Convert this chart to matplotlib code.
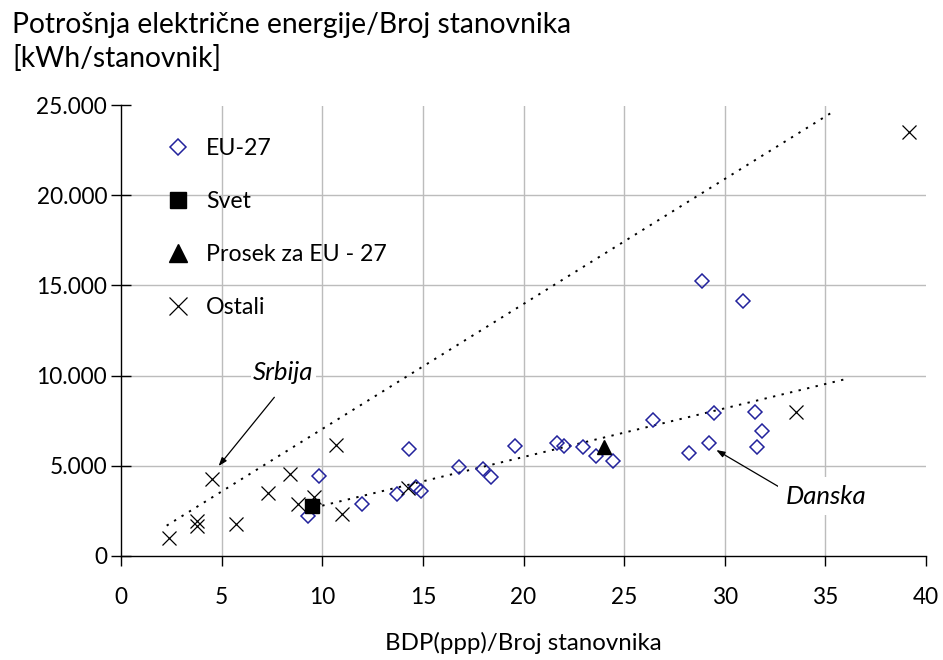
import matplotlib
matplotlib.use("Agg")
import matplotlib.pyplot as plt
from matplotlib.ticker import FixedLocator

plt.rcParams['font.family'] = ['Lato', 'DejaVu Sans']

# ---- data ----
eu27_x = [9.30, 9.84, 11.97, 13.70, 14.29, 14.64, 14.92, 16.78, 17.99, 18.39, 19.60,
          21.66, 22.01, 22.97, 23.59, 24.47, 26.41, 28.24, 28.85, 29.23, 29.47,
          30.91, 31.51, 31.61, 31.86]
eu27_y = [2200, 4400, 2850, 3400, 5930, 3820, 3580, 4930, 4820, 4360, 6100,
          6270, 6080, 6010, 5510, 5270, 7510, 5710, 15250, 6270, 7940,
          14140, 7950, 6030, 6920]

svet_x = [9.48]
svet_y = [2760]

prosek_x = [24.02]
prosek_y = [6045]

ostali_x = [2.39, 3.77, 3.77, 4.52, 5.73, 7.30, 8.38, 8.78, 9.58, 10.69, 10.96,
            14.26, 33.52, 39.16]
ostali_y = [990, 1920, 1650, 4250, 1750, 3450, 4510, 2860, 3270, 6120, 2300,
            3730, 7950, 23540]

trend_upper_x = [2.27, 35.36]
trend_upper_y = [1660, 24640]
trend_lower_x = [10.0, 35.97]
trend_lower_y = [2770, 9790]

x_ticks = [0, 5, 10, 15, 20, 25, 30, 35, 40]
y_ticks = [0, 5000, 10000, 15000, 20000, 25000]
y_tick_labels = ['0', '5.000', '10.000', '15.000', '20.000', '25.000']

series_labels = ['EU-27', 'Svet', 'Prosek za EU - 27', 'Ostali']
title_lines = ['Potrošnja električne energije/Broj stanovnika', '[kWh/stanovnik]']
x_label = 'BDP(ppp)/Broj stanovnika'

srbija_xy = (4.85, 4970)
srbija_arrow_start = (7.62, 8790)
srbija_text_xy = (8.07, 10140)
danska_xy = (29.58, 5860)
danska_arrow_start = (32.82, 3730)
danska_text_xy = (35.04, 3300)

# ---- figure ----
fig = plt.figure(figsize=(9.43, 6.6), dpi=100)
ax = fig.add_axes([121/943, 1 - 555.5/660, 805/943, 450/660])

blue = '#22229c'
ax.plot(trend_upper_x, trend_upper_y, color='black', lw=1.4,
        linestyle=(0, (1.2, 3.3)), zorder=3)
ax.plot(trend_lower_x, trend_lower_y, color='black', lw=1.4,
        linestyle=(0, (1.2, 3.3)), zorder=3)

h1, = ax.plot(eu27_x, eu27_y, linestyle='none', marker='D', ms=6.7,
              mfc='none', mec=blue, mew=1.1, label=series_labels[0], zorder=4)
h2, = ax.plot(svet_x, svet_y, linestyle='none', marker='s', ms=9.6,
              mfc='black', mec='black', label=series_labels[1], zorder=5)
h3, = ax.plot(prosek_x, prosek_y, linestyle='none', marker='^', ms=10,
              mfc='black', mec='black', label=series_labels[2], zorder=5)
h4, = ax.plot(ostali_x, ostali_y, linestyle='none', marker='x', ms=10,
              mec='black', mew=0.9, label=series_labels[3], zorder=4)

ax.set_xlim(0, 40)
ax.set_ylim(0, 25000)
ax.xaxis.set_major_locator(FixedLocator(x_ticks))
ax.yaxis.set_major_locator(FixedLocator(y_ticks))
ax.set_xticklabels([str(t) for t in x_ticks])
ax.set_yticklabels(y_tick_labels)

ax.grid(True, color='#bcbcbc', lw=1.0, zorder=0)
ax.set_axisbelow(True)
# no gridline at the axis limits
ax.xaxis.get_major_ticks()[-1].gridline.set_visible(False)
ax.yaxis.get_major_ticks()[-1].gridline.set_visible(False)
ax.xaxis.get_major_ticks()[0].gridline.set_visible(False)
ax.yaxis.get_major_ticks()[0].gridline.set_visible(False)

for s in ['top', 'right']:
    ax.spines[s].set_visible(False)
for s in ['left', 'bottom']:
    ax.spines[s].set_color('black')
    ax.spines[s].set_linewidth(1.0)

ax.tick_params(axis='x', direction='out', length=7, width=1, pad=16,
               labelsize=16.3, colors='black')
ax.tick_params(axis='y', direction='inout', length=14, width=1, pad=3,
               labelsize=16.3, colors='black')

ax.set_xlabel(x_label, fontsize=17.3, labelpad=17)

fig.text(12/943, 1 - 33.5/660, title_lines[0], fontsize=20.3, va='baseline', ha='left')
fig.text(12/943, 1 - 67/660, title_lines[1], fontsize=20.3, va='baseline', ha='left')

leg = ax.legend(handles=[h1, h2, h3, h4], loc='upper left',
                bbox_to_anchor=(0.0425, 0.9526), frameon=False, fontsize=16.7,
                borderpad=0, handlelength=1.0, handletextpad=0.7,
                labelspacing=1.37, markerscale=1.25)

# annotations
ax.annotate('', xy=srbija_xy, xytext=srbija_arrow_start,
            arrowprops=dict(arrowstyle='-|>,head_length=0.5,head_width=0.18',
                            color='black', lw=0.9, shrinkA=0, shrinkB=0), zorder=6)
ax.text(*srbija_text_xy, 'Srbija', fontsize=18.5, style='italic', ha='center',
        va='center', zorder=6,
        bbox=dict(boxstyle='square,pad=0.1', fc='white', ec='none'))

ax.annotate('', xy=danska_xy, xytext=danska_arrow_start,
            arrowprops=dict(arrowstyle='-|>,head_length=0.5,head_width=0.18',
                            color='black', lw=0.9, shrinkA=0, shrinkB=0), zorder=6)
ax.text(*danska_text_xy, 'Danska', fontsize=18.5, style='italic', ha='center',
        va='center', zorder=6,
        bbox=dict(boxstyle='square,pad=0.3', fc='white', ec='none'))

fig.savefig('out.png', dpi=100)
